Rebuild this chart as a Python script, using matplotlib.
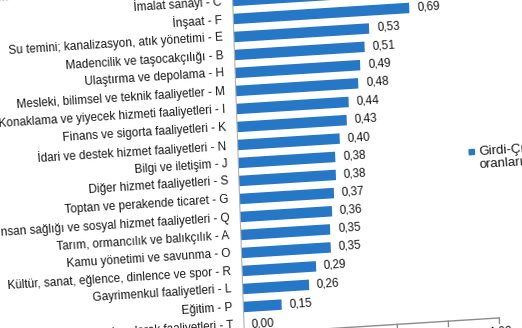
import numpy as np
import matplotlib
matplotlib.use("Agg")
import matplotlib.pyplot as plt
from matplotlib.transforms import Affine2D
from matplotlib.patches import Rectangle

plt.rcParams['font.family'] = ['Liberation Sans', 'DejaVu Sans']

# sectors, top to bottom
sectors = [
    "Elektrik, gaz, buhar ve iklimlendirme üretimi ve dağıtımı - D",
    "İmalat sanayi - C",
    "İnşaat - F",
    "Su temini; kanalizasyon, atık yönetimi - E",
    "Madencilik ve taşocakçılığı - B",
    "Ulaştırma ve depolama - H",
    "Mesleki, bilimsel ve teknik faaliyetler - M",
    "Konaklama ve yiyecek hizmeti faaliyetleri - I",
    "Finans ve sigorta faaliyetleri - K",
    "İdari ve destek hizmet faaliyetleri - N",
    "Bilgi ve iletişim - J",
    "Diğer hizmet faaliyetleri - S",
    "Toptan ve perakende ticaret - G",
    "İnsan sağlığı ve sosyal hizmet faaliyetleri - Q",
    "Tarım, ormancılık ve balıkçılık - A",
    "Kamu yönetimi ve savunma - O",
    "Kültür, sanat, eğlence, dinlence ve spor - R",
    "Gayrimenkul faaliyetleri - L",
    "Eğitim - P",
    "Hanehalklarının işverenler olarak faaliyetleri - T",
]
ratios = [0.74, 0.72, 0.69, 0.53, 0.51, 0.49, 0.48, 0.44, 0.43, 0.40,
          0.38, 0.38, 0.37, 0.36, 0.35, 0.35, 0.29, 0.26, 0.15, 0.00]
xticks = [0.0, 0.2, 0.4, 0.6, 0.8, 1.0]
legend_lines = ["Girdi-Çıktı", "oranları"]

BLUE = '#2677C5'
FS = 8.5

fig = plt.figure(figsize=(5.22, 3.28), dpi=100)
ax = fig.add_axes([0, 0, 1, 1])
ax.set_axis_off()

# the page is photographed slightly tilted: shear everything around the origin
px, py = 244, 3
a, b = 0.035, 0.063
tilt = (Affine2D().translate(-px, -py)
        + Affine2D(np.array([[1, -a, 0], [b, 1, 0], [0, 0, 1]]))
        + Affine2D().translate(px, py))
T = ax.transData + tilt
ang = np.degrees(np.arctan(b))

rows = np.arange(len(sectors))
base = len(sectors) - 0.5

# category axis line
ax.plot([0, 0], [-1, base], color='#b0b0b0', lw=0.8, transform=T)

bars = ax.barh(rows, ratios, height=0.58, color=BLUE)
for p in bars:
    p.set_transform(T)

for r, (name, v) in enumerate(zip(sectors, ratios)):
    ax.text(-0.043, r, name, transform=T, ha='right', va='center',
            rotation=ang, rotation_mode='anchor', fontsize=FS, color='#1a1a1a')
    ax.text(v + 0.03, r, f"{v:.2f}".replace('.', ','), transform=T,
            ha='left', va='center', rotation=ang, rotation_mode='anchor',
            fontsize=FS, color='#1a1a1a')

# value axis
ax.plot([0, xticks[-1]], [base, base], color='#8c8c8c', lw=1, transform=T)
for t in xticks:
    ax.plot([t, t], [base, base + 0.3], color='#8c8c8c', lw=1, transform=T)
    ax.text(t, base + 0.45, f"{t:.2f}".replace('.', ','), transform=T,
            ha='center', va='top', rotation=ang, rotation_mode='anchor',
            fontsize=FS, color='#1a1a1a')

# legend
lx, ly = 0.905, 10.21
ax.add_patch(Rectangle((lx, ly - 0.14), 0.02, 0.28, color=BLUE, transform=T))
for i, s in enumerate(legend_lines):
    ax.text(lx + 0.038, ly + i * 0.72, s, transform=T, ha='left', va='center',
            rotation=ang, rotation_mode='anchor', fontsize=9.5, color='#1a1a1a')

ax.set_xlim(-px / 255, (522 - px) / 255)
ax.set_ylim(19 + py / 18, 19 - (328 - py) / 18)

fig.savefig("out.png", dpi=100)
